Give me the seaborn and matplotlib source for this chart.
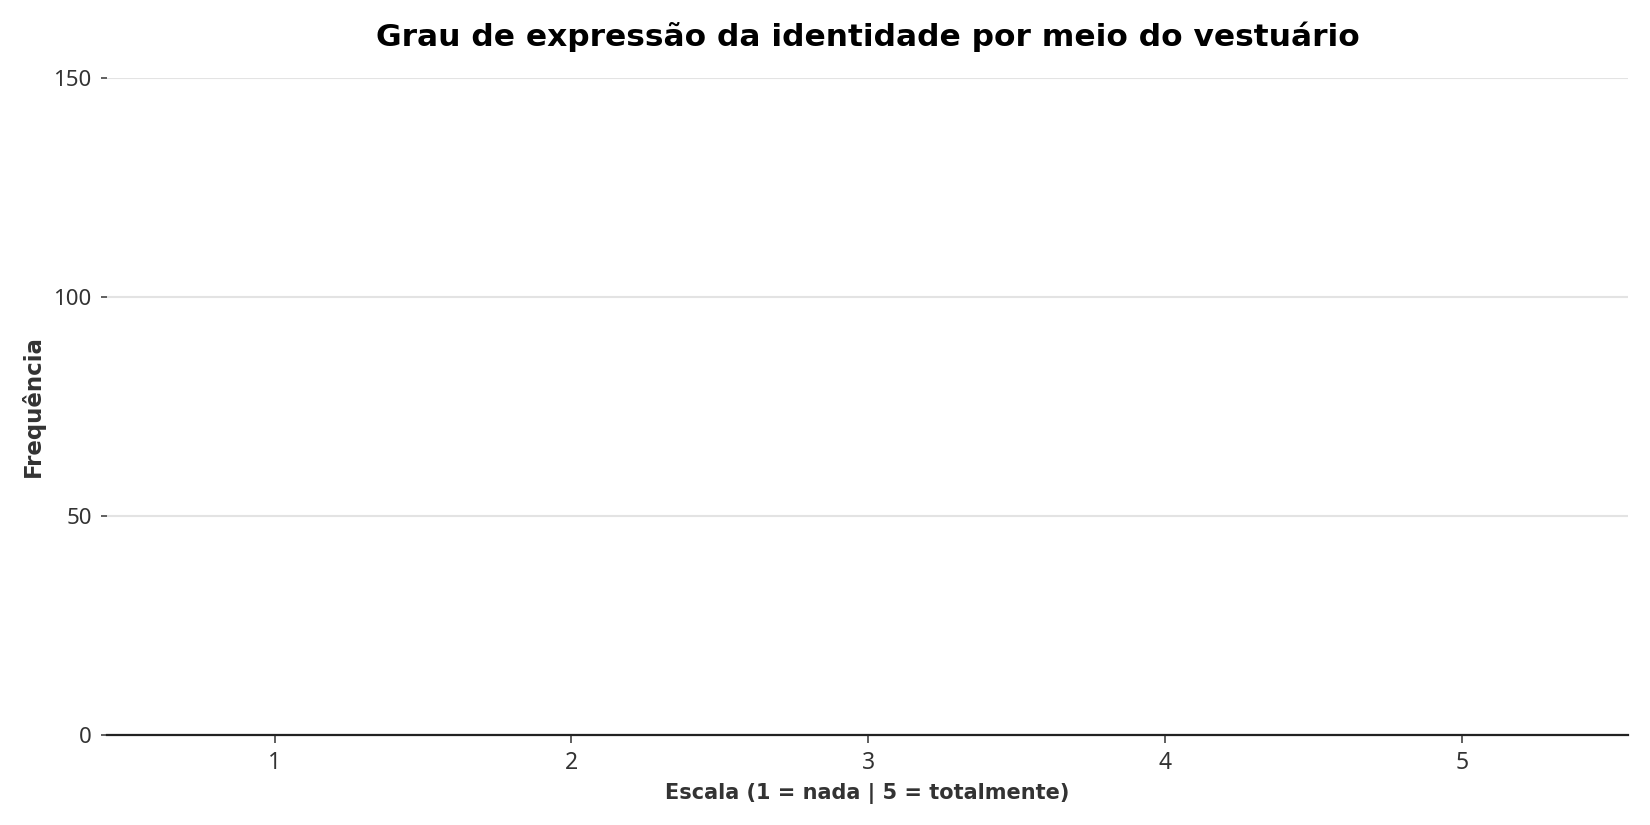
import matplotlib
matplotlib.use("Agg")
import matplotlib.pyplot as plt
import seaborn as sns
import pandas as pd

# Data (reference shows an empty chart: all frequencies zero)
categories = ["1", "2", "3", "4", "5"]
frequencies = [0, 0, 0, 0, 0]
yticks = [0, 50, 100, 150]

title = "Grau de expressão da identidade por meio do vestuário"
xlabel = "Escala (1 = nada | 5 = totalmente)"
ylabel = "Frequência"

sns.set_theme(style="white")
plt.rcParams['font.family'] = ['DejaVu Sans']

fig = plt.figure(figsize=(16.5, 8.25), dpi=100)
ax = fig.add_axes([107 / 1650, 1 - 735 / 825, (1628 - 107) / 1650, (735 - 78) / 825])

df = pd.DataFrame({"escala": categories, "freq": frequencies})
sns.barplot(data=df, x="escala", y="freq", ax=ax, color="#4C72B0")

ax.set_ylim(0, 150)
ax.set_yticks(yticks)
ax.set_xlim(-0.565, 4.56)

ax.yaxis.grid(True, color="#e3e3e3", linewidth=1.5)
ax.xaxis.grid(False)
ax.set_axisbelow(True)
for s in ["top", "right", "left"]:
    ax.spines[s].set_visible(False)
ax.spines["bottom"].set_color("#222222")
ax.spines["bottom"].set_linewidth(1.6)

ax.tick_params(axis="x", bottom=True, length=6, width=1.2, color="#444444",
               labelsize=16.5, labelcolor="#333333", pad=5.5)
ax.tick_params(axis="y", left=True, length=4.5, width=1.2, color="#444444",
               labelsize=16, labelcolor="#333333", pad=6.5)
for lab in ax.get_xticklabels() + ax.get_yticklabels():
    lab.set_fontfamily(["Noto Sans", "DejaVu Sans"])

ax.set_xlabel(xlabel, fontsize=15, fontweight="bold", color="#333333", labelpad=5.5)
ax.set_ylabel(ylabel, fontsize=16.5, fontweight="bold", color="#333333", labelpad=6)
ax.set_title(title, fontsize=22.5, fontweight="bold", color="black", pad=23)

fig.savefig("out.png", dpi=100)
